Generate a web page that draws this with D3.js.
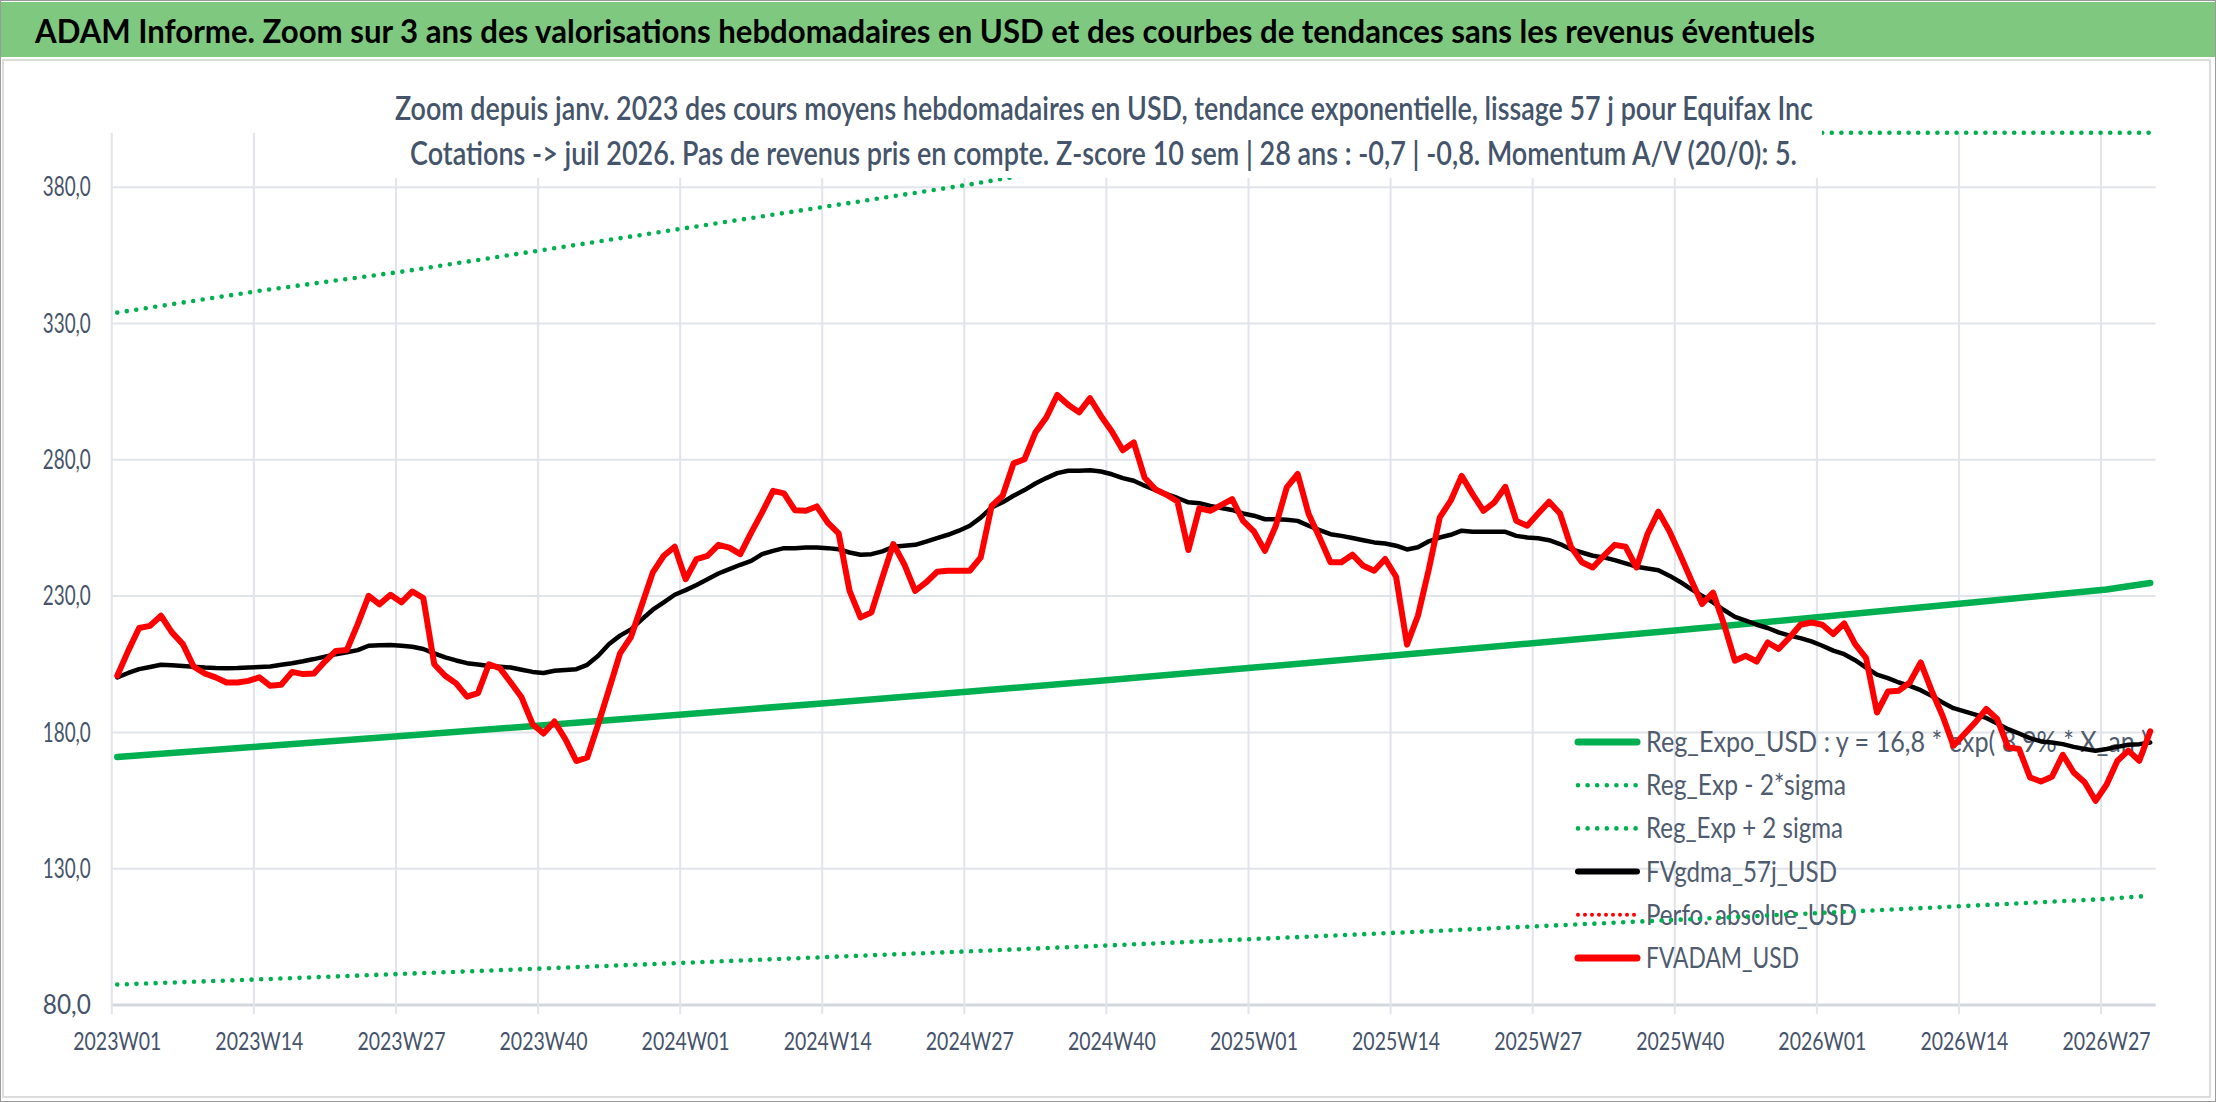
<!DOCTYPE html>
<html>
<head>
<meta charset="utf-8">
<script src="https://cdn.jsdelivr.net/npm/d3@7"></script>
<style>
  body { margin: 0; background: #fff; }
  svg { display: block; }
</style>
</head>
<body>
<svg id="chart" width="2216" height="1102"></svg>
<script>
// titres
var titre = "ADAM Informe. Zoom sur 3 ans des valorisations hebdomadaires en USD et des courbes de tendances sans les revenus éventuels";
var sousTitre1 = "Zoom depuis janv. 2023 des cours moyens hebdomadaires en USD, tendance exponentielle, lissage 57 j pour Equifax Inc";
var sousTitre2 = "Cotations -> juil 2026. Pas de revenus pris en compte. Z-score 10 sem | 28 ans : -0,7 | -0,8. Momentum A/V (20/0): 5.";

// semaines 2023W01 -> 2026W31
var semaines = [];
[2023, 2024, 2025, 2026].forEach(function (an) {
    for (var s = 1; s <= 52; s++) {
        if (an == 2026 && s > 31) break;
        semaines.push(an + "W" + (s < 10 ? "0" + s : s));
    }
});

var xTicks = ["2023W01", "2023W14", "2023W27", "2023W40", "2024W01", "2024W14", "2024W27", "2024W40",
              "2025W01", "2025W14", "2025W27", "2025W40", "2026W01", "2026W14", "2026W27"];
var yTicks = [80, 130, 180, 230, 280, 330, 380];

// FVADAM_USD (hebdo)
var fvadam = [
    200.8, 209.9, 218.3, 219.1, 222.8, 216.7, 212.4, 204.1, 201.6, 200.2,
    198.3, 198.3, 198.9, 200.2, 197.1, 197.5, 202.2, 201.4, 201.6, 206.0,
    209.9, 210.2, 219.7, 230.1, 227.0, 230.5, 227.7, 231.7, 229.3, 205.0,
    200.8, 198.0, 193.1, 194.4, 205.0, 203.6, 198.3, 192.8, 183.0, 179.6,
    184.0, 177.5, 169.5, 170.8, 183.0, 195.9, 209.0, 215.0, 226.8, 238.7,
    244.8, 248.1, 236.2, 243.6, 244.8, 248.8, 247.8, 245.4, 253.3, 260.7,
    268.6, 267.7, 261.5, 261.3, 262.9, 257.0, 253.0, 231.9, 222.2, 224.0,
    236.8, 249.1, 241.7, 231.9, 235.0, 238.9, 239.3, 239.3, 239.3, 244.2,
    263.1, 266.8, 278.7, 280.2, 290.0, 295.5, 303.8, 300.2, 297.4, 302.6,
    296.1, 290.4, 283.5, 286.4, 273.4, 269.1, 267.2, 264.7, 246.9, 262.2,
    261.3, 263.4, 265.6, 257.6, 253.7, 246.6, 255.8, 269.9, 274.8, 260.1,
    251.5, 242.4, 242.4, 245.2, 241.1, 239.3, 243.6, 237.1, 212.2, 222.8,
    239.9, 258.9, 265.0, 274.1, 267.4, 261.3, 264.4, 270.1, 257.6, 255.8,
    260.3, 264.6, 260.3, 248.1, 242.4, 240.5, 244.8, 248.8, 248.1, 240.5,
    252.7, 261.0, 253.9, 245.1, 235.9, 227.1, 231.3, 219.7, 206.3, 208.1,
    206.0, 213.0, 210.6, 214.8, 219.5, 220.3, 219.5, 216.1, 220.0, 212.4,
    207.3, 187.3, 195.0, 195.3, 198.3, 205.7, 195.3, 186.1, 175.1, 179.4,
    183.7, 188.6, 184.9, 174.5, 173.9, 163.5, 162.0, 163.7, 171.8, 165.3,
    161.7, 154.9, 160.8, 169.6, 173.3, 169.6, 180.4
];

// FVgdma_57j_USD (hebdo)
var fvgdma = [
    200.2, 201.8, 203.2, 204.0, 204.8, 204.6, 204.4, 204.1, 203.8, 203.6,
    203.5, 203.6, 203.8, 204.0, 204.2, 204.8, 205.4, 206.1, 206.9, 207.8,
    208.7, 209.4, 210.2, 211.8, 212.0, 212.1, 211.8, 211.4, 210.6, 209.0,
    207.5, 206.4, 205.4, 204.9, 204.4, 204.1, 203.8, 203.0, 202.2, 201.8,
    202.6, 202.9, 203.2, 204.8, 208.1, 212.4, 215.5, 217.8, 221.5, 225.0,
    227.7, 230.5, 232.2, 234.1, 236.2, 238.3, 239.9, 241.5, 242.9, 245.4,
    246.6, 247.6, 247.6, 247.8, 247.8, 247.6, 247.2, 246.0, 245.2, 245.4,
    246.4, 248.1, 248.5, 248.8, 250.0, 251.3, 252.5, 254.0, 255.8, 258.8,
    262.5, 264.4, 266.8, 268.9, 271.3, 273.3, 275.1, 276.0, 276.0, 276.2,
    275.7, 274.7, 273.3, 272.3, 270.5, 268.9, 267.4, 266.0, 264.4, 264.1,
    263.1, 262.3, 261.6, 260.3, 259.5, 258.2, 258.2, 258.0, 257.6, 255.8,
    254.2, 252.7, 252.1, 251.3, 250.5, 249.7, 249.3, 248.5, 247.1, 247.9,
    250.1, 251.5, 252.5, 254.0, 253.6, 253.6, 253.6, 253.6, 252.1, 251.5,
    251.2, 250.5, 249.1, 247.2, 246.0, 244.8, 244.2, 243.2, 242.0, 240.8,
    240.1, 239.5, 237.5, 235.2, 232.6, 230.1, 227.7, 224.9, 222.4, 221.0,
    219.5, 218.3, 216.7, 215.5, 214.6, 213.4, 211.8, 210.0, 208.7, 206.5,
    203.8, 201.2, 199.9, 198.3, 197.1, 195.5, 193.4, 191.0, 188.9, 187.7,
    186.5, 185.3, 183.3, 181.2, 179.6, 177.9, 176.7, 176.3, 175.7, 174.7,
    173.9, 173.3, 173.9, 174.7, 175.5, 175.7, 176.3
];

// courbes de tendance, lues toutes les 13 semaines
var semainesTendance = ["2023W01", "2023W14", "2023W27", "2023W40", "2024W01", "2024W14", "2024W27", "2024W40",
                        "2025W01", "2025W14", "2025W27", "2025W40", "2026W01", "2026W14", "2026W27", "2026W31"];
var regExpo = [171.0, 174.8, 178.7, 182.6, 186.7, 190.8, 195.0, 199.3, 203.8, 208.3, 212.9, 217.6, 222.4, 227.4, 232.4, 234.8];
var regBas  = [87.5, 89.4, 91.4, 93.4, 95.5, 97.6, 99.7, 101.9, 104.2, 106.5, 108.9, 111.3, 113.8, 116.3, 118.9, 120.1];
var regHaut = [334, 342, 349, 357, 365, 373, 381, 390, 398, 407, 416, 425, 435, 444, 454, 459];

var legende = ["Reg_Expo_USD : y = 16,8 * exp( 8,9% * X_an )", "Reg_Exp - 2*sigma", "Reg_Exp + 2 sigma",
               "FVgdma_57j_USD", "Perfo. absolue_USD", "FVADAM_USD"];

// ---------------------------------------------------------------
var svg = d3.select("#chart");
var police = "Lato, 'Open Sans', 'Noto Sans', sans-serif";
var gris = "#46536a";
var vert = "#00b050";

var zone = {left: 111.8, right: 2155.7, top: 132.7, bottom: 1005};

var x = d3.scaleBand().domain(semaines).range([zone.left, zone.right]).padding(0);
var xc = function (s) { return x(s) + x.bandwidth() / 2; };
var y = d3.scaleLinear().domain([80, 400]).range([zone.bottom, zone.top]).clamp(true);

// bandeau titre
svg.append("rect").attr("x", 0.5).attr("y", 0.5).attr("width", 2215).attr("height", 1101)
    .attr("fill", "#fff").attr("stroke", "#9a9a9a");
svg.append("rect").attr("x", 1).attr("y", 2).attr("width", 2214).attr("height", 55).attr("fill", "#7ec97f");
svg.append("text")
    .attr("x", 35).attr("y", 43)
    .attr("textLength", 1780).attr("lengthAdjust", "spacingAndGlyphs")
    .style("font-family", police).style("font-weight", "bold").style("font-size", "32px")
    .attr("fill", "#000")
    .text(titre);
svg.append("rect").attr("x", 3).attr("y", 60).attr("width", 2207).attr("height", 1037)
    .attr("fill", "none").attr("stroke", "#dcdcdc").attr("stroke-width", 2);

// grille
var grille = svg.append("g");
grille.selectAll("line.h").data(yTicks).enter().append("line")
    .attr("x1", zone.left).attr("x2", zone.right)
    .attr("y1", function (d) { return y(d); }).attr("y2", function (d) { return y(d); })
    .attr("stroke", function (d) { return d == 80 ? "#d3d7de" : "#e1e4ea"; })
    .attr("stroke-width", function (d) { return d == 80 ? 3 : 2; });
grille.selectAll("line.v").data(xTicks).enter().append("line")
    .attr("x1", function (d) { return x(d); }).attr("x2", function (d) { return x(d); })
    .attr("y1", zone.top).attr("y2", zone.bottom + 9)
    .attr("stroke", "#e1e4ea").attr("stroke-width", 2);

// axes
var fr = d3.formatLocale({decimal: ",", thousands: " ", grouping: [3], currency: ["", " €"]});
var axeY = svg.append("g").attr("transform", "translate(" + zone.left + ",0)")
    .call(d3.axisLeft(y).tickValues(yTicks).tickSize(0).tickPadding(21).tickFormat(fr.format(".1f")));
var axeX = svg.append("g").attr("transform", "translate(0," + zone.bottom + ")")
    .call(d3.axisBottom(x).tickValues(xTicks).tickSize(0).tickPadding(27));
axeY.selectAll("text").style("font-size", "27px").attr("textLength", 48).attr("lengthAdjust", "spacingAndGlyphs");
axeX.selectAll("text").style("font-size", "25px").attr("textLength", 88).attr("lengthAdjust", "spacingAndGlyphs");
[axeY, axeX].forEach(function (a) {
    a.select(".domain").remove();
    a.selectAll("text").style("font-family", police).attr("fill", gris);
});

// légende (sous les courbes)
var leg = svg.append("g");
var styles = [
    {c: vert, w: 7, dash: null, lg: 502},
    {c: vert, w: 4.6, dash: "0 9.6", lg: 200},
    {c: vert, w: 4.6, dash: "0 9.6", lg: 197},
    {c: "#000", w: 6, dash: null, lg: 191},
    {c: "#ff0000", w: 4, dash: "0 7", lg: 211},
    {c: "#ff0000", w: 7, dash: null, lg: 153}
];
legende.forEach(function (nom, i) {
    var yy = 742 + i * 43.2;
    leg.append("line").attr("x1", 1578).attr("x2", 1637).attr("y1", yy).attr("y2", yy)
        .attr("stroke", styles[i].c).attr("stroke-width", styles[i].w)
        .attr("stroke-linecap", "round").attr("stroke-dasharray", styles[i].dash);
    leg.append("text").attr("x", 1646).attr("y", yy + 10)
        .attr("textLength", styles[i].lg).attr("lengthAdjust", "spacingAndGlyphs")
        .style("font-family", police).style("font-size", "28px").attr("fill", "#4f5b6e")
        .text(nom);
});

// courbes
var ligne = d3.line().x(function (d) { return xc(d[0]); }).y(function (d) { return y(d[1]); });
var couple = function (cats, vals) { return cats.map(function (c, i) { return [c, vals[i]]; }); };

function tracer(data, couleur, largeur, pointille) {
    svg.append("path").datum(data).attr("d", ligne)
        .attr("fill", "none").attr("stroke", couleur).attr("stroke-width", largeur)
        .attr("stroke-linejoin", "round").attr("stroke-linecap", "round")
        .attr("stroke-dasharray", pointille);
}
tracer(couple(semainesTendance, regExpo), vert, 6.5, null);
tracer(couple(semainesTendance, regBas), vert, 4.6, "0 9.6");
tracer(couple(semainesTendance, regHaut), vert, 4.6, "0 9.6");
tracer(couple(semaines, fvgdma), "#000", 4.5, null);
tracer(couple(semaines, fvadam), "#ff0000", 6, null);

// sous-titre sur fond blanc
svg.append("rect").attr("x", 378).attr("y", 70).attr("width", 1444).attr("height", 108).attr("fill", "#fff");
svg.append("text").attr("x", 1104).attr("y", 120).attr("text-anchor", "middle")
    .attr("textLength", 1418).attr("lengthAdjust", "spacingAndGlyphs")
    .style("font-family", police).style("font-weight", 600).style("font-size", "32px")
    .attr("fill", "#44546a").text(sousTitre1);
svg.append("text").attr("x", 1103.5).attr("y", 165).attr("text-anchor", "middle")
    .attr("textLength", 1387).attr("lengthAdjust", "spacingAndGlyphs")
    .style("font-family", police).style("font-weight", 600).style("font-size", "32px")
    .attr("fill", "#44546a").text(sousTitre2);
</script>
</body>
</html>
